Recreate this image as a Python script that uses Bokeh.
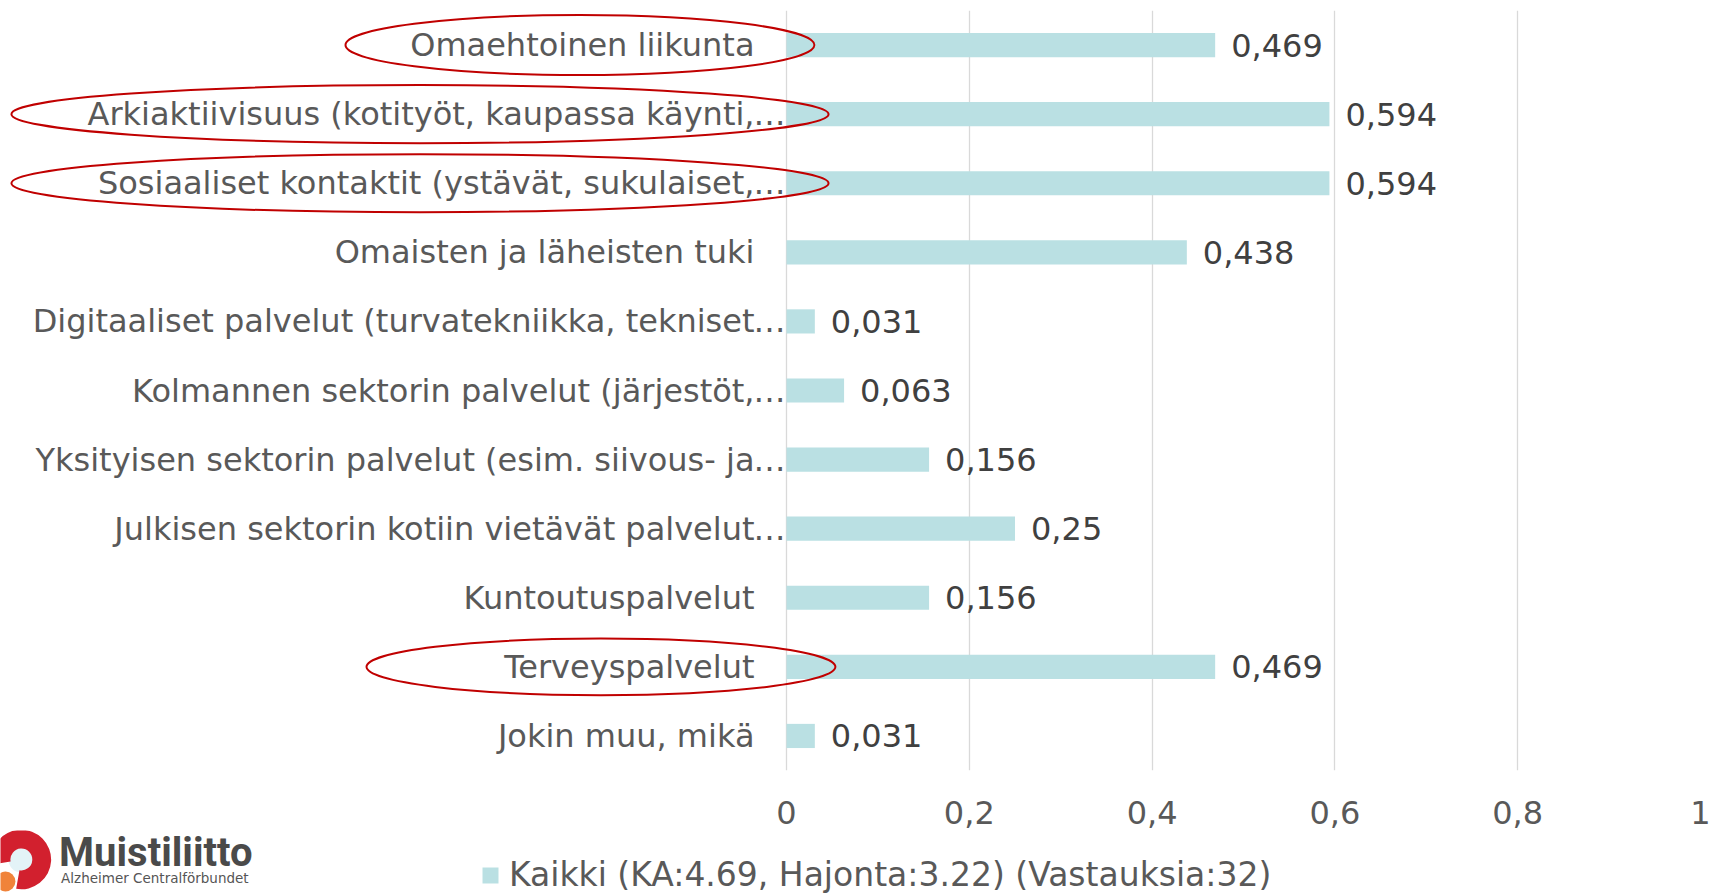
from bokeh.plotting import figure
from bokeh.models import (FactorRange, Range1d, FixedTicker, CustomJSTickFormatter,
                          Legend, LegendItem, ColumnDataSource)
from bokeh.layouts import column
from bokeh.core.properties import value
from bokeh.embed import file_html
from bokeh.resources import INLINE

# ---------------- data ----------------
labels = [
    "Omaehtoinen liikunta",
    "Arkiaktiivisuus (kotityöt, kaupassa käynti,",
    "Sosiaaliset kontaktit (ystävät, sukulaiset,",
    "Omaisten ja läheisten tuki",
    "Digitaaliset palvelut (turvatekniikka, tekniset",
    "Kolmannen sektorin palvelut (järjestöt,",
    "Yksityisen sektorin palvelut (esim. siivous- ja",
    "Julkisen sektorin kotiin vietävät palvelut",
    "Kuntoutuspalvelut",
    "Terveyspalvelut",
    "Jokin muu, mikä",
]
truncated = [False, True, True, False, True, True, True, True, False, False, False]
values = [0.469, 0.594, 0.594, 0.438, 0.031, 0.063, 0.156, 0.25, 0.156, 0.469, 0.031]
x_ticks = [0, 0.2, 0.4, 0.6, 0.8, 1]
legend_label = "Kaikki (KA:4.69, Hajonta:3.22) (Vastauksia:32)"

# hand-drawn highlight ellipses (annotation): row, centre x, width, height (band units)
circled_rows = ["Omaehtoinen liikunta",
                "Arkiaktiivisuus (kotityöt, kaupassa käynti,",
                "Sosiaaliset kontaktit (ystävät, sukulaiset,",
                "Terveyspalvelut"]
circled_cx = [-0.226, -0.401, -0.401, -0.203]
circled_w = [0.513, 0.894, 0.894, 0.513]
circled_h = [0.87, 0.84, 0.84, 0.82]

# ---------------- styling ----------------
FONT = "DejaVu Sans"
FS = "32px"
BAR = "#BAE0E3"
LABEL_C = "#595959"
VALUE_C = "#404040"
GRID_C = "#D9D9D9"

W = 1712
H_MAIN, H_FOOT = 830, 63
zero_px = 786          # position of x=0 inside figure
px_per_unit = 914

p = figure(width=W, height=H_MAIN, output_backend="svg", toolbar_location=None,
           y_range=FactorRange(*reversed(labels), range_padding=0),
           x_range=Range1d(-zero_px / px_per_unit, 1.0),
           min_border_left=0, min_border_right=W - zero_px - px_per_unit,
           min_border_top=10, min_border_bottom=60)
p.outline_line_color = None
p.background_fill_color = "white"
p.border_fill_color = "white"

src = ColumnDataSource(dict(
    cat=labels,
    val=values,
    txt=[str(v).replace(".", ",") for v in values],
))

bars = p.hbar(y="cat", left=0, right="val", height=0.35, source=src,
              fill_color=BAR, line_color=None)

# value labels
p.text(x="val", y="cat", text="txt", source=src, x_offset=16,
       text_align="left", text_baseline="middle",
       text_font=value(FONT), text_font_size=value(FS), text_color=VALUE_C)

# category labels
p.text(x=0, y="cat", text="cat", source=src, x_offset=-32,
       text_align="right", text_baseline="middle",
       text_font=value(FONT), text_font_size=value(FS), text_color=LABEL_C)
trunc_cats = [c for c, t in zip(labels, truncated) if t]
p.text(x=0, y=trunc_cats, text=["…"] * len(trunc_cats), x_offset=-33,
       text_align="left", text_baseline="middle",
       text_font=value(FONT), text_font_size=value(FS), text_color=LABEL_C)

# highlight ellipses
p.ellipse(x=circled_cx, y=circled_rows, width=circled_w, height=circled_h,
          fill_color=None, line_color="#C00000", line_width=2)

# axes / grid
p.yaxis.visible = False
p.ygrid.visible = False
xa = p.xaxis[0]
xa.ticker = FixedTicker(ticks=x_ticks)
xa.formatter = CustomJSTickFormatter(code="return tick.toString().replace('.', ',')")
xa.axis_line_color = None
xa.major_tick_line_color = None
xa.minor_tick_line_color = None
xa.major_label_standoff = 24
xa.major_label_text_font = FONT
xa.major_label_text_font_size = FS
xa.major_label_text_color = LABEL_C
p.xgrid.ticker = FixedTicker(ticks=x_ticks)
p.xgrid.grid_line_color = GRID_C
p.xgrid.grid_line_width = 1.3

# ---------------- footer: legend + logo ----------------
f = figure(width=W, height=H_FOOT, output_backend="svg", toolbar_location=None,
           x_range=Range1d(0, W), y_range=Range1d(0, H_FOOT),
           min_border_left=0, min_border_right=0, min_border_top=0, min_border_bottom=0)
f.axis.visible = False
f.grid.visible = False
f.outline_line_color = None
f.background_fill_color = "white"
f.border_fill_color = "white"

# legend proxy (same style as the bars, kept out of view)
proxy = f.hbar(y=[-1000], right=[1], left=0, height=1, fill_color=BAR, line_color=None)
legend = Legend(items=[LegendItem(label=legend_label, renderers=[proxy])],
                location=(480, -1), orientation="horizontal",
                padding=0, margin=0, spacing=0,
                glyph_width=20, glyph_height=20, label_standoff=9,
                label_text_font=FONT, label_text_font_size="33px",
                label_text_color=LABEL_C,
                background_fill_alpha=0, border_line_color=None)
f.add_layout(legend, "center")

# Muistiliitto logo
f.circle(x=[21], y=[34], radius=13, fill_color="#E3F3F7", line_color=None)
f.annular_wedge(x=[21], y=[34], inner_radius=11, outer_radius=30,
                start_angle=-100, end_angle=190, start_angle_units="deg",
                end_angle_units="deg", fill_color="#D2202E", line_color=None)
f.circle(x=[5], y=[12], radius=10, fill_color="#F0833A", line_color=None)
f.text(x=[59], y=[41], text=["Muistiliitto"], text_align="left",
       text_baseline="alphabetic", text_font=value("Roboto"),
       text_font_style="bold", text_font_size=value("40px"), text_color="#4A4A4A")
f.text(x=[61], y=[16], text=["Alzheimer Centralförbundet"], text_align="left",
       text_baseline="alphabetic", text_font=value(FONT),
       text_font_size=value("13.5px"), text_color="#555555")

layout = column(p, f, spacing=0)
open("out.html", "w").write(file_html(layout, INLINE))
